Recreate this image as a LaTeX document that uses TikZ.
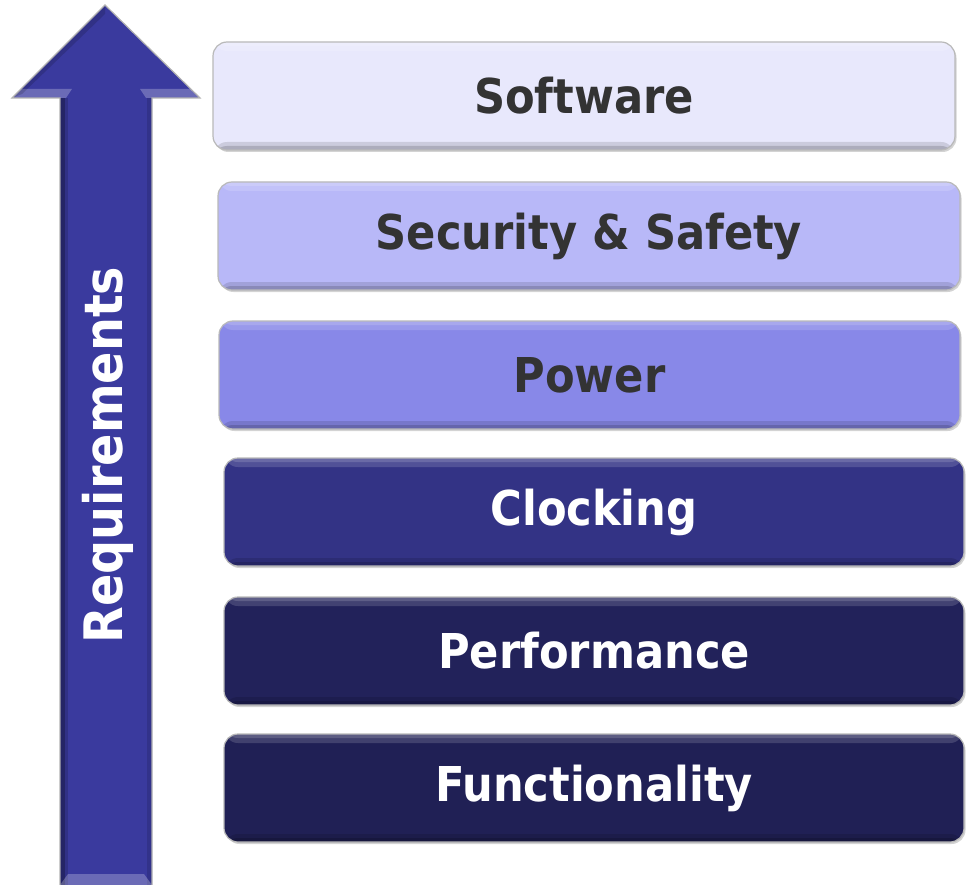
\documentclass[tikz,border=0pt]{standalone}
\usepackage{fontspec}
\newfontfamily\tierfont{DejaVu Sans Condensed}
\usetikzlibrary{shadows}
\definecolor{tierA}{HTML}{E8E8FC}
\definecolor{tierB}{HTML}{B8B8F8}
\definecolor{tierC}{HTML}{8888E8}
\definecolor{tierD}{HTML}{333385}
\definecolor{tierE}{HTML}{22225A}
\definecolor{tierF}{HTML}{202055}
\definecolor{arrowblue}{HTML}{3A3A9E}
\definecolor{darktext}{HTML}{333333}
\tikzset{
  tier/.style={rounded corners=14pt, draw=gray!55, line width=1.2pt,
    minimum height=108pt, inner sep=0pt,
    font=\tierfont\bfseries\fontsize{48}{56}\selectfont,
    drop shadow={shadow xshift=1.5pt, shadow yshift=-2pt, opacity=.35, fill=gray},
    path picture={
      \fill[white, opacity=.15] (path picture bounding box.north west)
        rectangle ([yshift=-9pt]path picture bounding box.north east);
      \fill[white, opacity=.15] (path picture bounding box.north west)
        rectangle ([yshift=-4pt]path picture bounding box.north east);
      \fill[black, opacity=.12] (path picture bounding box.south west)
        rectangle ([yshift=8pt]path picture bounding box.south east);
      \fill[black, opacity=.15] (path picture bounding box.south west)
        rectangle ([yshift=4pt]path picture bounding box.south east);
    }},
  lighttext/.style={text=darktext},
  whitetext/.style={text=white},
}
\newcommand{\tiertext}[1]{\raisebox{-3pt}{#1}}
\begin{document}
\begin{tikzpicture}[x=1pt, y=-1pt]
  \useasboundingbox (0,0) rectangle (971,885);

  % the upward arrow
  \coordinate (tip) at (105,5);
  \coordinate (hr) at (200,98);
  \coordinate (sr) at (152,98);
  \coordinate (br) at (152,885);
  \coordinate (bl) at (60,885);
  \coordinate (sl) at (60,98);
  \coordinate (hl) at (12,98);
  \fill[arrowblue] (tip) -- (hr) -- (sr) -- (br) -- (bl) -- (sl) -- (hl) -- cycle;
  % bevel shading of the arrow
  \fill[black, opacity=.35] (60,98) rectangle (65,885);
  \fill[black, opacity=.15] (65,98) rectangle (68,885);
  \fill[black, opacity=.12] (147,98) rectangle (152,885);
  \fill[white, opacity=.25] (12,98) -- (20,89) -- (72,89) -- (66,98) -- cycle;
  \fill[white, opacity=.25] (200,98) -- (192,89) -- (140,89) -- (146,98) -- cycle;
  \fill[white, opacity=.25] (60,885) -- (68,874) -- (144,874) -- (152,885) -- cycle;
  \fill[black, opacity=.15] (tip) -- (12,98) -- (22,94) -- (105,14) -- cycle;
  \draw[gray!60, line width=1.2pt, line join=miter]
    (bl) -- (sl) -- (hl) -- (tip) -- (hr) -- (sr) -- (br);
  \node[rotate=90, text=white, font=\tierfont\bfseries\fontsize{53}{60}\selectfont]
    (req) at (108,455) {Requirements};

  % the stacked tiers
  \node[tier, lighttext, fill=tierA, minimum width=742pt] (sw)   at (584,96)  {\tiertext{Software}};
  \node[tier, lighttext, fill=tierB, minimum width=742pt] (sec)  at (589,236) {\tiertext{Security \& Safety}};
  \node[tier, lighttext, fill=tierC, minimum width=741pt] (pow)  at (589.5,375) {\tiertext{Power}};
  \node[tier, whitetext, fill=tierD, minimum width=740pt] (clk)  at (594,512) {\tiertext{Clocking}};
  \node[tier, whitetext, fill=tierE, minimum width=740pt] (perf) at (594,651) {\tiertext{Performance}};
  \node[tier, whitetext, fill=tierF, minimum width=740pt] (func) at (594,788) {\tiertext{Functionality}};
\end{tikzpicture}
\end{document}
